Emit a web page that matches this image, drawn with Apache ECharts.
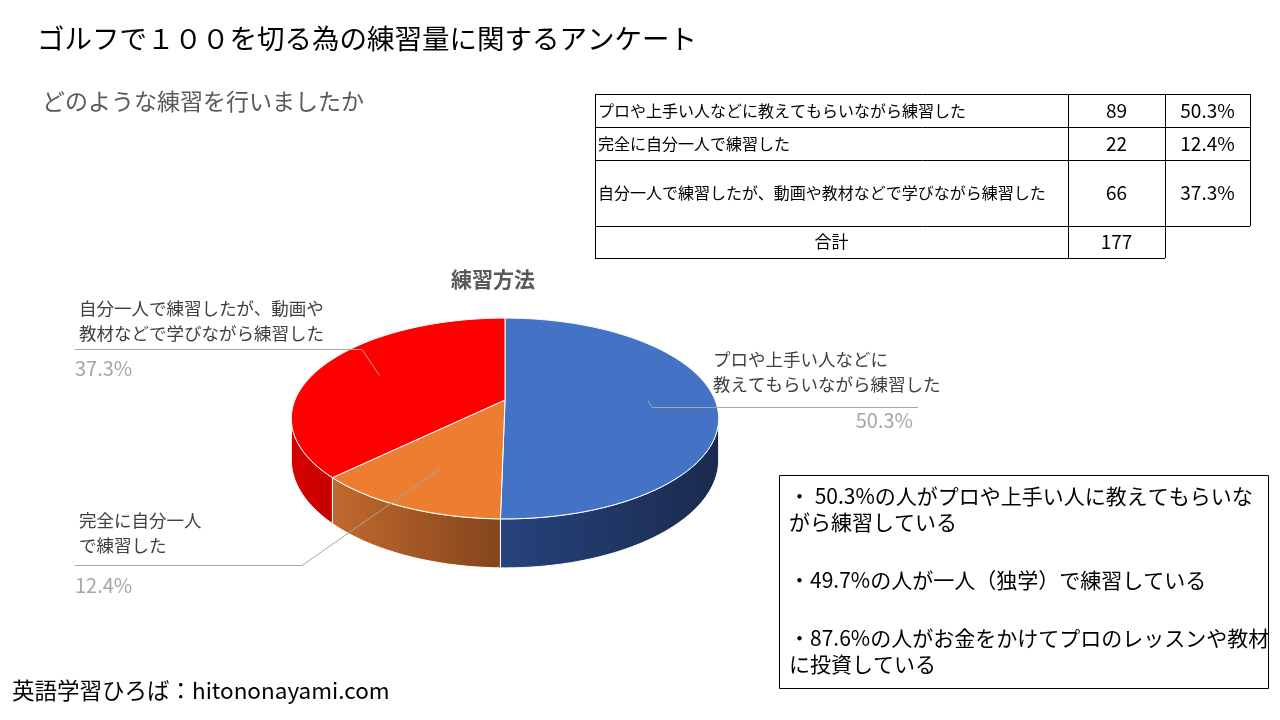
<!DOCTYPE html>
<html>
<head>
<meta charset="utf-8">
<script src="https://cdn.jsdelivr.net/npm/echarts@6/dist/echarts.min.js"></script>
<style>
  html, body { margin: 0; padding: 0; background: #fff; }
  #chart { width: 1280px; height: 720px; }
</style>
</head>
<body>
<div id="chart"></div>
<script>
// ==================== Data ====================
const categories = [
  'プロや上手い人などに教えてもらいながら練習した',
  '完全に自分一人で練習した',
  '自分一人で練習したが、動画や教材などで学びながら練習した'
];
const pieLabels = [
  'プロや上手い人などに\n教えてもらいながら練習した',
  '完全に自分一人\nで練習した',
  '自分一人で練習したが、動画や\n教材などで学びながら練習した'
];
const counts = [89, 22, 66];
const percents = [50.3, 12.4, 37.3];
const totalCount = 177;

const noteLines = [
  '・ 50.3%の人がプロや上手い人に教えてもらいな',
  'がら練習している',
  '・49.7%の人が一人（独学）で練習している',
  '・87.6%の人がお金をかけてプロのレッスンや教材',
  'に投資している'
];

// ==================== Styles / layout ====================
const FONT = "'Noto Sans CJK JP', 'Noto Sans', sans-serif";
const topColors = ['#4472C4', '#ED7D31', '#FF0000'];
const sideColors = [['#26437d', '#1a2a4d'], ['#c2692e', '#83451b'], ['#d80000', '#c40000']];

// pseudo-3D pie geometry (perspective squash)
const CX = 505, CY = 400, RX = 210, RY = 97, P = 0.184, DEPTH = 40;
const VIS0 = Math.PI - Math.acos(P), VIS1 = Math.PI + Math.acos(P);

// label boxes: text position, leader line elbow / end, percent position
const labelLayout = [
  { tx: 713, ty: 347, elbowX: 652, lineY: 407, endX: 918, px: 913, py: 420, pAlign: 'right' },
  { tx: 79, ty: 508, elbowX: 302, lineY: 565, endX: 75, px: 75, py: 585, pAlign: 'left' },
  { tx: 79, ty: 296, elbowX: 362, lineY: 349, endX: 75, px: 75, py: 368, pAlign: 'left' }
];

const sum = counts.reduce((a, b) => a + b, 0);
const startAngles = [];
const endAngles = [];
let acc = 0;
counts.forEach(c => {
  startAngles.push(acc / sum * Math.PI * 2);
  acc += c;
  endAngles.push(acc / sum * Math.PI * 2);
});

// theta measured clockwise from 12 o'clock
function proj(theta, r) {
  const u = Math.sin(theta) * r;
  const v = -Math.cos(theta) * r;
  const s = 1 / (1 - P * v);
  return [CX + RX * u * s, CY + RY * v * s, s];
}

function arcPoints(a0, a1) {
  const pts = [];
  const n = Math.max(2, Math.ceil((a1 - a0) / (Math.PI / 180)));
  for (let k = 0; k <= n; k++) {
    pts.push(proj(a0 + (a1 - a0) * k / n, 1));
  }
  return pts;
}

function renderSide(params, api) {
  const i = params.dataIndex;
  const lo = Math.max(startAngles[i], VIS0);
  const hi = Math.min(endAngles[i], VIS1);
  if (lo >= hi) return { type: 'group', children: [] };
  const top = arcPoints(lo, hi);
  const bottom = top.map(p => [p[0], p[1] + DEPTH * p[2]]).reverse();
  const points = top.map(p => [p[0], p[1]]).concat(bottom);
  return {
    type: 'polygon',
    shape: { points },
    style: {
      fill: new echarts.graphic.LinearGradient(0, 0, 1, 0, [
        { offset: 0, color: sideColors[i][0] },
        { offset: 1, color: sideColors[i][1] }
      ]),
      stroke: '#ffffff',
      lineWidth: 1
    }
  };
}

function renderTop(params, api) {
  const i = params.dataIndex;
  const arc = arcPoints(startAngles[i], endAngles[i]).map(p => [p[0], p[1]]);
  const points = [[CX, CY]].concat(arc);
  const mid = (startAngles[i] + endAngles[i]) / 2;
  const anchor = proj(mid, 0.68);
  const L = labelLayout[i];
  return {
    type: 'group',
    children: [
      {
        type: 'polygon',
        shape: { points },
        style: { fill: topColors[i], stroke: '#ffffff', lineWidth: 1 }
      },
      {
        type: 'polyline',
        shape: { points: [[anchor[0], anchor[1]], [L.elbowX, L.lineY + 0.5], [L.endX, L.lineY + 0.5]] },
        style: { stroke: '#a6a6a6', lineWidth: 1, fill: null }
      },
      {
        type: 'text',
        x: L.tx, y: L.ty,
        style: {
          text: pieLabels[i], fill: '#404040', fontSize: 17.5, fontFamily: FONT,
          lineHeight: 25, align: 'left', verticalAlign: 'top'
        }
      },
      {
        type: 'text',
        x: L.px, y: L.py,
        style: {
          text: percents[i].toFixed(1) + '%', fill: '#a6a6a6', fontSize: 20,
          fontFamily: FONT, align: L.pAlign, verticalAlign: 'middle'
        }
      }
    ]
  };
}

// ==================== Table & text graphics ====================
const graphics = [];
function txt(text, x, y, size, color, align, extra) {
  graphics.push({
    type: 'text', x, y, silent: true,
    style: Object.assign({
      text, fill: color, fontSize: size, fontFamily: FONT,
      align: align || 'left', verticalAlign: 'middle',
      textAlign: align || 'left', textVerticalAlign: 'middle'
    }, extra || {})
  });
}
function hline(x1, x2, y) {
  graphics.push({ type: 'line', silent: true, shape: { x1, y1: y + 0.5, x2, y2: y + 0.5 }, style: { stroke: '#000', lineWidth: 1 } });
}
function vline(x, y1, y2) {
  graphics.push({ type: 'line', silent: true, shape: { x1: x + 0.5, y1, x2: x + 0.5, y2 }, style: { stroke: '#000', lineWidth: 1 } });
}

txt('ゴルフで１００を切る為の練習量に関するアンケート', 37, 39, 27.5, '#000');
txt('どのような練習を行いましたか', 42, 101, 23, '#595959');
txt('練習方法', 493, 279, 21, '#595959', 'center', { fontWeight: 'bold' });

// table
const colX = [595, 1068, 1165, 1250];
const rowY = [94, 127, 160, 226, 258];
hline(colX[0], colX[3], rowY[0]);
hline(colX[0], colX[3], rowY[1]);
hline(colX[0], colX[3], rowY[2]);
hline(colX[0], colX[3], rowY[3]);
hline(colX[0], colX[2], rowY[4]);
vline(colX[0], rowY[0], rowY[4]);
vline(colX[1], rowY[0], rowY[4]);
vline(colX[2], rowY[0], rowY[4]);
vline(colX[3], rowY[0], rowY[3]);
categories.forEach((c, i) => {
  const yc = (rowY[i] + rowY[i + 1]) / 2;
  txt(c, colX[0] + 3, yc, 16, '#000');
  txt(String(counts[i]), (colX[1] + colX[2]) / 2, yc, 19, '#000', 'center');
  txt(percents[i].toFixed(1) + '%', (colX[2] + colX[3]) / 2, yc, 19, '#000', 'center');
});
txt('合計', (colX[0] + colX[1]) / 2, (rowY[3] + rowY[4]) / 2, 17, '#000', 'center');
txt(String(totalCount), (colX[1] + colX[2]) / 2, (rowY[3] + rowY[4]) / 2, 19, '#000', 'center');

// note box
graphics.push({
  type: 'rect', silent: true,
  shape: { x: 779.5, y: 475.5, width: 489, height: 213 },
  style: { fill: 'none', stroke: '#000', lineWidth: 1 }
});
const noteY = [496, 522, 580, 638, 664];
noteLines.forEach((t, i) => txt(t, 789, noteY[i], 21, '#000'));

txt('英語学習ひろば：hitononayami.com', 12, 690, 22.5, '#000');

// ==================== Chart ====================
const chart = echarts.init(document.getElementById('chart'));
chart.setOption({
  backgroundColor: '#ffffff',
  animation: false,
  graphic: graphics,
  series: [
    {
      type: 'custom',
      coordinateSystem: 'none',
      silent: true,
      z: 1,
      renderItem: renderSide,
      data: counts
    },
    {
      type: 'custom',
      coordinateSystem: 'none',
      silent: true,
      z: 2,
      renderItem: renderTop,
      data: counts
    }
  ]
});
</script>
</body>
</html>
